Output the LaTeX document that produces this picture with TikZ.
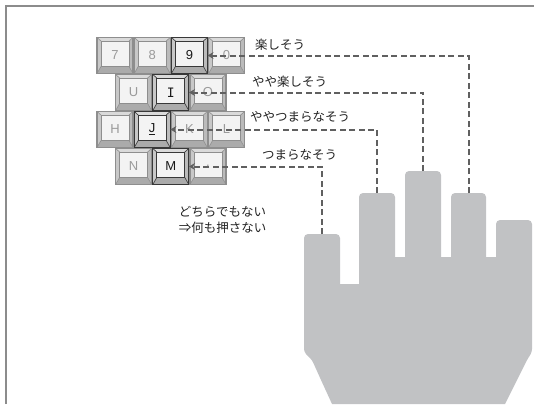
\documentclass[tikz,border=0pt]{standalone}
\usepackage{fontspec}
\usetikzlibrary{arrows.meta}
\newfontfamily\jp{Noto Sans CJK JP}
\newfontfamily\keyfont{Liberation Sans}
\newfontfamily\keymono{DejaVu Sans Mono}

\definecolor{frameline}{HTML}{8C8C8C}
\definecolor{kbtop}{HTML}{DADADA}
\definecolor{kbleft}{HTML}{C8C8C8}
\definecolor{kbright}{HTML}{BBBBBB}
\definecolor{kbbottom}{HTML}{ABABAB}
\definecolor{kbface}{HTML}{F3F3F3}
\definecolor{edgelo}{HTML}{8E8E8E}
\definecolor{edgehi}{HTML}{383838}
\definecolor{labello}{HTML}{9A9A9A}
\definecolor{labelhi}{HTML}{1A1A1A}
\definecolor{handgray}{HTML}{C1C2C4}
\definecolor{dashgray}{HTML}{606060}
\definecolor{textdark}{HTML}{222222}

% one keycap: name, left, top, label, edge colour, label colour
\newcommand\keycap[6]{%
  \begin{scope}[shift={(#2,#3)}]
    \fill[kbtop]    (0,0) -- (36,0) -- (32,3.5) -- (4,3.5) -- cycle;
    \fill[kbleft]   (0,0) -- (4,3.5) -- (4,29) -- (0,36) -- cycle;
    \fill[kbright]  (36,0) -- (32,3.5) -- (32,29) -- (36,36) -- cycle;
    \fill[kbbottom] (0,36) -- (4,29) -- (32,29) -- (36,36) -- cycle;
    \filldraw[fill=kbface, draw=#5, line width=0.8] (4,3.5) rectangle (32,29);
    \draw[#5, line width=0.6] (0,0) -- (4,3.5) (36,0) -- (32,3.5)
                              (0,36) -- (4,29) (36,36) -- (32,29);
    \draw[#5, line width=1.1] (0,0) rectangle (36,36);
  \end{scope}
  \node[keylabel, text=#6] (#1) at (#2+18,#3+18) {#4};
}

\tikzset{
  keylabel/.style={minimum width=36pt, minimum height=36pt, inner sep=0pt,
                   font=\keyfont\fontsize{13}{13}\selectfont},
  conn/.style={draw=dashgray, line width=2pt, dash pattern=on 6pt off 3.5pt,
               -{Stealth[length=6pt,width=7pt]}},
  jlabel/.style={font=\jp\fontsize{12.5}{16}\selectfont, text=textdark,
                 inner sep=0pt, anchor=west},
}

\begin{document}
\begin{tikzpicture}[x=1pt,y=-1pt]
\useasboundingbox (0,0) rectangle (534,404);

% frame
\draw[frameline, line width=1.5pt] (6,404) -- (6,6) -- (534,6);

% keyboard rows
\keycap{k7}{97}{37.5}{7}{edgelo}{labello}
\keycap{k8}{134.2}{37.5}{8}{edgelo}{labello}
\keycap{k9}{171.4}{37.5}{9}{edgehi}{labelhi}
\keycap{k0}{208.6}{37.5}{0}{edgelo}{labello}

\keycap{kU}{115.6}{74.5}{U}{edgelo}{labello}
\keycap{kI}{152.8}{74.5}{\keymono I}{edgehi}{labelhi}
\keycap{kO}{190}{74.5}{O}{edgelo}{labello}

\keycap{kH}{97}{111.5}{H}{edgelo}{labello}
\keycap{kJ}{134.2}{111.5}{\underline{J}}{edgehi}{labelhi}
\keycap{kK}{171.4}{111.5}{K}{edgelo}{labello}
\keycap{kL}{208.6}{111.5}{L}{edgelo}{labello}

\keycap{kN}{115.6}{148.5}{N}{edgelo}{labello}
\keycap{kM}{152.8}{148.5}{M}{edgehi}{labelhi}
\keycap{kC}{190}{148.5}{,}{edgelo}{labello}

% hand
\fill[handgray] (420,404) -- (505,404)
  [rounded corners=3] -- (527,360) -- (532,352) -- (532,300)
  [rounded corners=4] -- (532,220) -- (496,220) -- (496,240)
  [sharp corners] -- (496,257) -- (486,257) -- (486,230)
  [rounded corners=4] -- (486,193) -- (451,193) -- (451,230)
  [sharp corners] -- (451,257) -- (441,257) -- (441,220)
  [rounded corners=4] -- (441,171) -- (405,171) -- (405,220)
  [sharp corners] -- (405,257) -- (395,257) -- (395,230)
  [rounded corners=4] -- (395,193) -- (359,193) -- (359,240)
  [sharp corners] -- (359,284) -- (340,284) -- (340,260)
  [rounded corners=4] -- (340,234) -- (304,234) -- (304,300)
  [rounded corners=3] -- (304,352) -- (312,360) -- (321,380)
  [sharp corners] -- (332,404) -- cycle;

% fingertips
\coordinate (f1) at (322,234);
\coordinate (f2) at (377,193);
\coordinate (f3) at (423,171);
\coordinate (f4) at (468.5,193);

% connectors
\draw[conn] (f4) |- (k9.east);
\draw[conn] (f3) |- (kI.east);
\draw[conn] (f2) |- (kJ.east);
\draw[conn] (f1) |- (kM.east);

% labels
\node[jlabel] (t1) at (255,45) {楽しそう};
\node[jlabel] (t2) at (252,82) {やや楽しそう};
\node[jlabel] (t3) at (250,117) {ややつまらなそう};
\node[jlabel] (t4) at (262,155) {つまらなそう};
\node[jlabel, anchor=center, align=center] (t5) at (222.5,220)
  {どちらでもない\\⇒何も押さない};
\end{tikzpicture}
\end{document}
